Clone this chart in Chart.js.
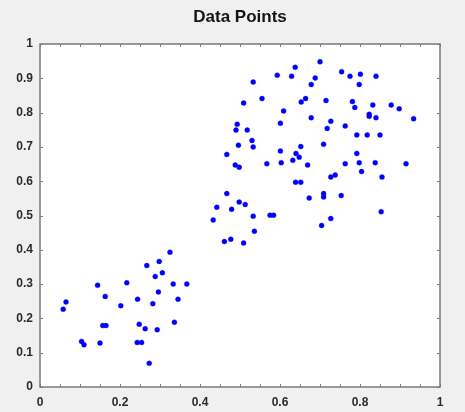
<!DOCTYPE html>
<html>
<head>
<meta charset="utf-8">
<script src="https://cdn.jsdelivr.net/npm/chart.js@4/dist/chart.umd.min.js"></script>
<style>
  html, body { margin: 0; padding: 0; background: #f0f0f0; }
  #wrap { width: 465px; height: 412px; }
</style>
</head>
<body>
<div id="wrap"><canvas id="chart" width="465" height="412"></canvas></div>
<script>
  // lower-left cluster
  const lowX = [0.058, 0.065, 0.104, 0.110, 0.144, 0.150, 0.163, 0.157, 0.165, 0.202,
                0.217, 0.244, 0.248, 0.243, 0.254, 0.263, 0.267, 0.273, 0.282, 0.288,
                0.293, 0.296, 0.298, 0.306, 0.325, 0.333, 0.336, 0.345, 0.367];
  const lowY = [0.227, 0.248, 0.133, 0.123, 0.297, 0.128, 0.264, 0.179, 0.179, 0.237,
                0.304, 0.256, 0.183, 0.130, 0.130, 0.170, 0.354, 0.069, 0.243, 0.322,
                0.167, 0.277, 0.366, 0.333, 0.393, 0.300, 0.189, 0.256, 0.300];

  // upper-right cluster
  const highX = [0.700, 0.638, 0.754, 0.593, 0.629, 0.688, 0.775, 0.801, 0.840, 0.533,
                 0.678, 0.798, 0.555, 0.509, 0.653, 0.664, 0.715, 0.781, 0.787, 0.832,
                 0.878, 0.898, 0.609, 0.823, 0.823, 0.840, 0.934, 0.678, 0.727, 0.718,
                 0.763, 0.601, 0.493, 0.490, 0.518, 0.792, 0.818, 0.850, 0.530, 0.533,
                 0.496, 0.709, 0.652, 0.601, 0.640, 0.648, 0.632, 0.792, 0.798, 0.838,
                 0.915, 0.763, 0.603, 0.567, 0.669, 0.488, 0.498, 0.804, 0.727, 0.738,
                 0.855, 0.639, 0.652, 0.673, 0.709, 0.709, 0.753, 0.498, 0.513, 0.479,
                 0.533, 0.575, 0.584, 0.853, 0.727, 0.704, 0.467, 0.467, 0.442, 0.433,
                 0.536, 0.461, 0.477, 0.509];
  const highY = [0.948, 0.932, 0.919, 0.909, 0.906, 0.901, 0.906, 0.912, 0.906, 0.889,
                 0.882, 0.882, 0.841, 0.828, 0.831, 0.841, 0.835, 0.832, 0.815, 0.822,
                 0.822, 0.811, 0.805, 0.795, 0.789, 0.785, 0.782, 0.785, 0.775, 0.754,
                 0.761, 0.769, 0.766, 0.749, 0.749, 0.735, 0.735, 0.735, 0.719, 0.700,
                 0.705, 0.708, 0.701, 0.688, 0.681, 0.670, 0.661, 0.681, 0.654, 0.654,
                 0.651, 0.651, 0.654, 0.651, 0.647, 0.647, 0.641, 0.628, 0.612, 0.618,
                 0.612, 0.597, 0.597, 0.551, 0.564, 0.554, 0.558, 0.539, 0.532, 0.518,
                 0.498, 0.501, 0.501, 0.511, 0.491, 0.471, 0.678, 0.564, 0.524, 0.487,
                 0.454, 0.424, 0.431, 0.420];

  const xLabelTicks = [0, 0.2, 0.4, 0.6, 0.8, 1];

  const allX = lowX.concat(highX);
  const allY = lowY.concat(highY);
  const points = allX.map((x, i) => ({ x: x, y: allY[i] }));

  const FONT = "'Liberation Sans', Arial, sans-serif";
  const near = (a, b) => Math.abs(a - b) < 1e-6;

  // figure background + white axes box
  const backdrop = {
    id: "backdrop",
    beforeDraw(chart) {
      const { ctx, chartArea: a } = chart;
      ctx.save();
      ctx.fillStyle = "#f0f0f0";
      ctx.fillRect(0, 0, chart.width, chart.height);
      ctx.fillStyle = "#ffffff";
      ctx.fillRect(a.left, a.top, a.right - a.left, a.bottom - a.top);
      ctx.restore();
    }
  };

  // box outline with inward tick marks on all four sides
  const axesBox = {
    id: "axesBox",
    afterDraw(chart) {
      const { ctx, chartArea: a, scales } = chart;
      ctx.save();
      ctx.strokeStyle = "#808080";
      ctx.lineWidth = 1;
      scales.x.ticks.forEach(t => {
        const px = Math.round(scales.x.getPixelForValue(t.value)) + 0.5;
        ctx.beginPath();
        ctx.moveTo(px, a.bottom); ctx.lineTo(px, a.bottom - 3);
        ctx.moveTo(px, a.top); ctx.lineTo(px, a.top + 3);
        ctx.stroke();
      });
      scales.y.ticks.forEach(t => {
        const py = Math.round(scales.y.getPixelForValue(t.value)) + 0.5;
        ctx.beginPath();
        ctx.moveTo(a.left, py); ctx.lineTo(a.left + 3, py);
        ctx.moveTo(a.right, py); ctx.lineTo(a.right - 3, py);
        ctx.stroke();
      });
      ctx.lineWidth = 1.5;
      ctx.strokeStyle = "#7a7a7a";
      ctx.strokeRect(a.left, a.top, a.right - a.left, a.bottom - a.top);
      ctx.restore();
    }
  };

  new Chart(document.getElementById("chart"), {
    type: "scatter",
    data: {
      datasets: [{
        label: "Data Points",
        data: points,
        pointStyle: "circle",
        pointRadius: 2.5,
        backgroundColor: "#0000ff",
        borderColor: "rgba(0,0,255,0.35)",
        borderWidth: 1
      }]
    },
    options: {
      responsive: false,
      animation: false,
      layout: { padding: { left: 0, right: 25, top: 0, bottom: 0 } },
      plugins: {
        legend: { display: false },
        tooltip: { enabled: false },
        title: {
          display: true,
          fullSize: false, // centre over the plot box, not the canvas
          text: "Data Points",
          color: "#141414",
          font: { family: FONT, size: 17, weight: "bold", lineHeight: 1.2 },
          padding: { top: 7, bottom: 16.6 }
        }
      },
      scales: {
        x: {
          type: "linear",
          min: 0, max: 1,
          grid: { display: false, drawTicks: false },
          border: { display: false },
          ticks: {
            stepSize: 0.05,
            autoSkip: false,
            maxRotation: 0,
            padding: 8,
            color: "#2a2a2a",
            font: { family: FONT, size: 12, weight: "bold" },
            callback: v => xLabelTicks.some(t => near(t, v)) ? String(+v.toFixed(1)) : ""
          },
          afterFit: s => { s.height = 25; }
        },
        y: {
          min: 0, max: 1,
          grid: { display: false, drawTicks: false },
          border: { display: false },
          ticks: {
            stepSize: 0.1,
            padding: 7,
            color: "#2a2a2a",
            font: { family: FONT, size: 12, weight: "bold" },
            callback: v => String(+v.toFixed(1))
          },
          afterFit: s => { s.width = 40; }
        }
      }
    },
    plugins: [backdrop, axesBox]
  });
</script>
</body>
</html>
